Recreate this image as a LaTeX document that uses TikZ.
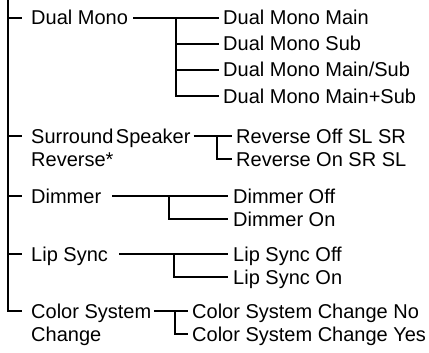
\documentclass[tikz,border=0pt]{standalone}
\usepackage{fontspec}
\setmainfont{Liberation Sans}
\begin{document}
\begin{tikzpicture}[x=1pt,y=-1pt,
  lbl/.style={anchor=base west, inner sep=0pt, font=\fontsize{20}{23}\selectfont},
  conn/.style={line width=1.4pt},
  trunk/.style={line width=1.8pt}]
\useasboundingbox (0,0) rectangle (429,353);
\def\base{7}
% parent labels
\node[lbl] (dm) at (31,18+\base) {Dual Mono};
\node[lbl] (ss) at (31,136+\base) {\spaceskip=2.5pt Surround Speaker};
\node[lbl] (ss2) at (31,159+\base) {Reverse*};
\node[lbl] (dim) at (31,196+\base) {Dimmer};
\node[lbl] (lip) at (31,254+\base) {Lip Sync};
\node[lbl] (col) at (31,311+\base) {Color System};
\node[lbl] (col2) at (31,334+\base) {Change};
% children
\node[lbl] (dm1) at (223,18+\base) {Dual Mono Main};
\node[lbl] (dm2) at (223,44+\base) {Dual Mono Sub};
\node[lbl] (dm3) at (223,70+\base) {Dual Mono Main/Sub};
\node[lbl] (dm4) at (223,96+\base) {Dual Mono Main+Sub};
\node[lbl] (ss1c) at (236,136+\base) {Reverse Off SL SR};
\node[lbl] (ss2c) at (236,159+\base) {Reverse On SR SL};
\node[lbl] (dim1) at (233,196+\base) {Dimmer Off};
\node[lbl] (dim2) at (233,219+\base) {Dimmer On};
\node[lbl] (lip1) at (233,254+\base) {Lip Sync Off};
\node[lbl] (lip2) at (233,277+\base) {Lip Sync On};
\node[lbl] (col1c) at (192,311+\base) {Color System Change No};
\node[lbl] (col2c) at (192,334+\base) {Color System Change Yes};
% trunk coordinates
\coordinate (ttop) at (8,0);
\coordinate (tdm) at (8,18);
\coordinate (tss) at (8,136);
\coordinate (tdim) at (8,196);
\coordinate (tlip) at (8,254);
\coordinate (tcol) at (8,311);
\draw[trunk] (ttop) -- (tcol) -- ++(14,0);
\foreach \c in {tdm,tss,tdim,tlip} \draw[trunk] (\c) -- ++(14,0);
% Dual Mono
\coordinate (jdm) at (176,18);
\draw[conn] ([xshift=5pt]dm.east |- jdm) -- ([xshift=-4pt]dm1.west |- jdm);
\draw[conn] (jdm) -- (jdm |- 0,96) -- ([xshift=-4pt]dm4.west |- 0,96);
\draw[conn] (jdm |- 0,44) -- ([xshift=-4pt]dm2.west |- 0,44);
\draw[conn] (jdm |- 0,70) -- ([xshift=-4pt]dm3.west |- 0,70);
% Surround
\coordinate (jss) at (217,136);
\draw[conn] ([xshift=3pt]ss.east |- jss) -- ([xshift=-4pt]ss1c.west |- jss);
\draw[conn] (jss) -- (jss |- 0,159) -- ([xshift=-4pt]ss2c.west |- 0,159);
% Dimmer
\coordinate (jdim) at (169,196);
\draw[conn] ([xshift=11pt]dim.east |- jdim) -- ([xshift=-5pt]dim1.west |- jdim);
\draw[conn] (jdim) -- (jdim |- 0,219) -- ([xshift=-5pt]dim2.west |- 0,219);
% Lip
\coordinate (jlip) at (174,254);
\draw[conn] ([xshift=11pt]lip.east |- jlip) -- ([xshift=-5pt]lip1.west |- jlip);
\draw[conn] (jlip) -- (jlip |- 0,277) -- ([xshift=-5pt]lip2.west |- 0,277);
% Color
\coordinate (jcol) at (175,311);
\draw[conn] ([xshift=3pt]col.east |- jcol) -- ([xshift=-4pt]col1c.west |- jcol);
\draw[conn] (jcol) -- (jcol |- 0,334) -- ([xshift=-4pt]col2c.west |- 0,334);
\end{tikzpicture}
\end{document}
